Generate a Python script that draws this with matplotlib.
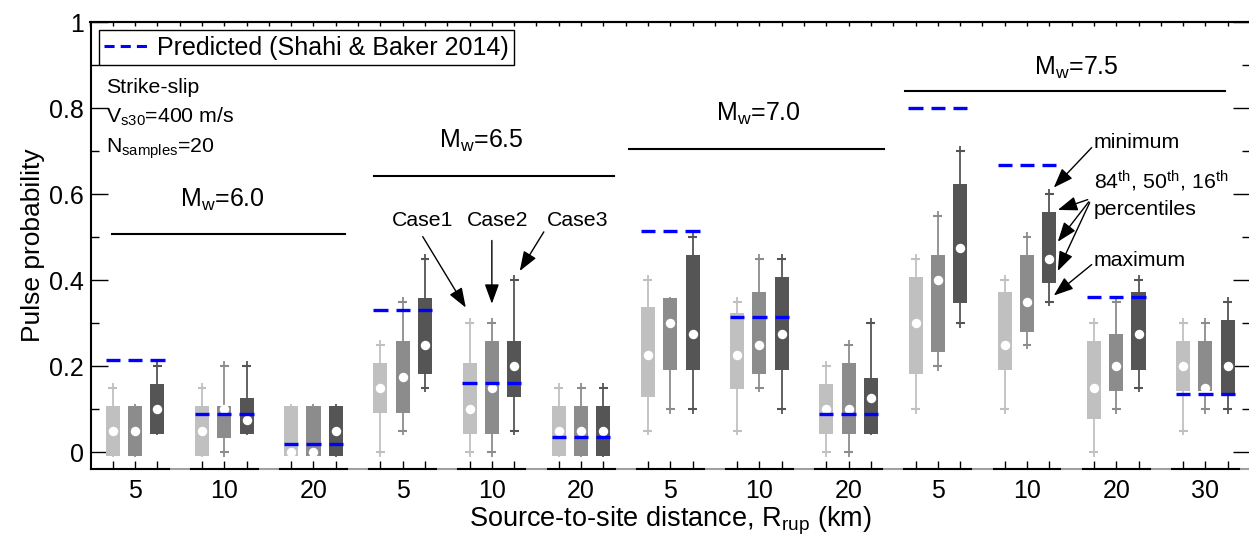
import numpy as np
import matplotlib.pyplot as plt
from matplotlib.lines import Line2D

plt.rcParams['font.family'] = ['Liberation Sans', 'DejaVu Sans']
plt.rcParams['mathtext.fontset'] = 'custom'
plt.rcParams['mathtext.rm'] = 'Liberation Sans'
plt.rcParams['mathtext.it'] = 'Liberation Sans:italic'
plt.rcParams['mathtext.default'] = 'regular'

# groups: (Mw, Rrup)
distances = ['5', '10', '20', '5', '10', '20', '5', '10', '20', '5', '10', '20', '30']
magnitudes = ['6.0', '6.5', '7.0', '7.5']
cases = ['Case1', 'Case2', 'Case3']
case_colors = ['#c0c0c0', '#8c8c8c', '#555555']

# rows = groups, columns = Case1, Case2, Case3
p_min = np.array([
    [0.00, 0.00, 0.05], [0.00, 0.00, 0.05], [0.00, 0.00, 0.00],
    [0.00, 0.05, 0.15], [0.00, 0.00, 0.05], [0.00, 0.00, 0.00],
    [0.05, 0.10, 0.10], [0.05, 0.15, 0.10], [0.00, 0.00, 0.05],
    [0.10, 0.20, 0.30], [0.10, 0.25, 0.35], [0.00, 0.10, 0.15], [0.05, 0.10, 0.10]])
p16 = np.array([
    [0.00, 0.00, 0.05], [0.00, 0.04, 0.05], [0.00, 0.00, 0.00],
    [0.10, 0.10, 0.19], [0.05, 0.05, 0.137], [0.00, 0.00, 0.00],
    [0.137, 0.20, 0.20], [0.155, 0.19, 0.20], [0.05, 0.05, 0.05],
    [0.19, 0.24, 0.355], [0.20, 0.288, 0.40], [0.086, 0.15, 0.20], [0.15, 0.15, 0.138]])
p50 = np.array([
    [0.05, 0.05, 0.10], [0.05, 0.10, 0.075], [0.00, 0.00, 0.05],
    [0.15, 0.175, 0.25], [0.10, 0.15, 0.20], [0.05, 0.05, 0.05],
    [0.225, 0.30, 0.275], [0.225, 0.25, 0.275], [0.10, 0.10, 0.125],
    [0.30, 0.40, 0.475], [0.25, 0.35, 0.45], [0.15, 0.20, 0.275], [0.20, 0.15, 0.20]])
p84 = np.array([
    [0.10, 0.10, 0.15], [0.10, 0.10, 0.117], [0.10, 0.10, 0.10],
    [0.20, 0.25, 0.35], [0.20, 0.25, 0.25], [0.10, 0.10, 0.10],
    [0.33, 0.35, 0.45], [0.316, 0.364, 0.40], [0.15, 0.20, 0.164],
    [0.40, 0.45, 0.615], [0.364, 0.45, 0.55], [0.25, 0.266, 0.364], [0.25, 0.25, 0.30]])
p_max = np.array([
    [0.15, 0.10, 0.20], [0.15, 0.20, 0.20], [0.10, 0.10, 0.10],
    [0.25, 0.35, 0.45], [0.30, 0.30, 0.40], [0.15, 0.15, 0.15],
    [0.40, 0.35, 0.50], [0.35, 0.45, 0.45], [0.20, 0.25, 0.30],
    [0.45, 0.55, 0.70], [0.40, 0.50, 0.60], [0.30, 0.35, 0.40], [0.30, 0.30, 0.35]])
predicted = np.array([0.213, 0.089, 0.019, 0.331, 0.160, 0.035, 0.513, 0.315, 0.089,
                      0.80, 0.668, 0.36, 0.134])

n_groups = len(distances)
pos = np.array([[4 * g + c + 1 for c in range(3)] for g in range(n_groups)], dtype=float)

fig = plt.figure(figsize=(12.49, 5.42), dpi=100)
ax = fig.add_axes([90.5 / 1249, 72.7 / 542, 1159.5 / 1249, 447.3 / 542])
ax.set_xlim(0, 52)
ax.set_ylim(-0.04, 1.0)

box_w = 0.63
cap_w = 0.2
pad = 0.008
for c in range(3):
    col = case_colors[c]
    x = pos[:, c]
    ax.vlines(x, p84[:, c], p_max[:, c] + 0.011, color=col, lw=1.3, zorder=2)
    ax.vlines(x, p_min[:, c] - 0.011, p16[:, c], color=col, lw=1.3, zorder=2)
    ax.hlines(p_max[:, c], x - cap_w, x + cap_w, color=col, lw=1.5, zorder=2)
    ax.hlines(p_min[:, c], x - cap_w, x + cap_w, color=col, lw=1.5, zorder=2)
    ax.bar(x, p84[:, c] - p16[:, c] + 2 * pad, bottom=p16[:, c] - pad, width=box_w,
           color=col, edgecolor='none', zorder=3)
    ax.plot(x, p50[:, c], 'o', color='white', ms=6.8, mec='none', zorder=4)

ax.hlines(np.repeat(predicted, 3), pos.ravel() - 0.32, pos.ravel() + 0.32,
          color='#0000ff', lw=2.4, zorder=5)

# magnitude headers
mag_x = [5.91, 17.53, 29.94, 44.22]
mag_y = [0.571, 0.707, 0.771, 0.877]
line_x = [(0.97, 11.4), (12.7, 23.47), (24.14, 35.57), (36.52, 50.87)]
line_y = [0.508, 0.641, 0.705, 0.84]
for m in range(4):
    ax.text(mag_x[m], mag_y[m], 'M$_{w}$=' + magnitudes[m], fontsize=18,
            ha='center', va='baseline')
    ax.plot(line_x[m], [line_y[m]] * 2, color='k', lw=1.5)

ax.text(0.69, 0.835, 'Strike-slip', fontsize=15.3, va='baseline')
ax.text(0.69, 0.765, 'V$_{s30}$=400 m/s', fontsize=15.3, va='baseline')
ax.text(0.69, 0.695, 'N$_{samples}$=20', fontsize=15.3, va='baseline')

arrow = dict(arrowstyle='-|>,head_length=0.6,head_width=0.22', color='k', lw=1,
             mutation_scale=20, shrinkA=0, shrinkB=0)
case_x = [13.5, 16.86, 20.45]
case_start = [(14.90, 0.501), (18.0, 0.492), (20.33, 0.512)]
case_tip = [(16.83, 0.336), (18.0, 0.345), (19.25, 0.421)]
for c in range(3):
    ax.text(case_x[c], 0.526, cases[c], fontsize=15.3, va='baseline')
    ax.annotate('', xy=case_tip[c], xytext=case_start[c], arrowprops=arrow)

ax.text(45.0, 0.707, 'minimum', fontsize=15.3, va='baseline')
ax.text(45.0, 0.612, '84$^{th}$, 50$^{th}$, 16$^{th}$', fontsize=15.3, va='baseline')
ax.text(45.0, 0.552, 'percentiles', fontsize=15.3, va='baseline')
ax.text(45.0, 0.433, 'maximum', fontsize=15.3, va='baseline')
ax.annotate('', xy=(43.2, 0.615), xytext=(44.9, 0.708), arrowprops=arrow)
ax.annotate('', xy=(43.38, 0.563), xytext=(44.72, 0.587), arrowprops=arrow)
ax.annotate('', xy=(43.38, 0.489), xytext=(44.77, 0.582), arrowprops=arrow)
ax.annotate('', xy=(43.38, 0.421), xytext=(44.81, 0.580), arrowprops=arrow)
ax.annotate('', xy=(43.2, 0.364), xytext=(44.9, 0.436), arrowprops=arrow)

# legend
handle = Line2D([], [], color='#0000ff', lw=2.2, dashes=(3.3, 2.0))
leg = ax.legend([handle], ['Predicted (Shahi & Baker 2014)'], loc='upper left',
                bbox_to_anchor=(0.0073, 0.982), borderaxespad=0, fontsize=18,
                fancybox=False, edgecolor='k', framealpha=1, borderpad=0.22,
                handlelength=1.9, handletextpad=0.2)
leg.get_frame().set_linewidth(1.0)

# axes styling
ax.spines['right'].set_visible(False)
ax.spines['bottom'].set_color('#a0a0a0')
for s in ['left', 'top', 'bottom']:
    ax.spines[s].set_linewidth(1.5)
for g in range(n_groups):
    x0 = 0 if g == 0 else 4 * g + 0.5
    ax.plot([x0, 4 * g + 3.5], [0, 0], transform=ax.get_xaxis_transform(),
            color='k', lw=1.5, clip_on=False, zorder=6)

xlabels = []
for g in range(n_groups):
    xlabels += ['', distances[g], '']
ax.set_xticks(pos.ravel(), xlabels)
ax.tick_params(axis='x', direction='in', length=6, width=1, pad=7, labelsize=18,
               top=False)
ax.set_yticks([0, 0.2, 0.4, 0.6, 0.8, 1.0], ['0', '0.2', '0.4', '0.6', '0.8', '1'])
ax.set_yticks([0.1, 0.3, 0.5, 0.7, 0.9], minor=True)
ax.tick_params(axis='y', which='major', direction='in', length=12, width=1,
               left=True, right=True, labelsize=18, pad=5)
ax.tick_params(axis='y', which='minor', direction='in', length=6, width=1,
               left=True, right=True)

sec = ax.secondary_xaxis('top')
sec.set_xticks(np.arange(0, 53), [''] * 53)
sec.tick_params(direction='in', length=3, width=1)
sec.spines['top'].set_linewidth(1.5)

ax.set_xlabel('Source-to-site distance, R$_{rup}$ (km)', fontsize=19.5, labelpad=1)
ax.set_ylabel('Pulse probability', fontsize=19, labelpad=3)

fig.savefig('out.png', dpi=100)
